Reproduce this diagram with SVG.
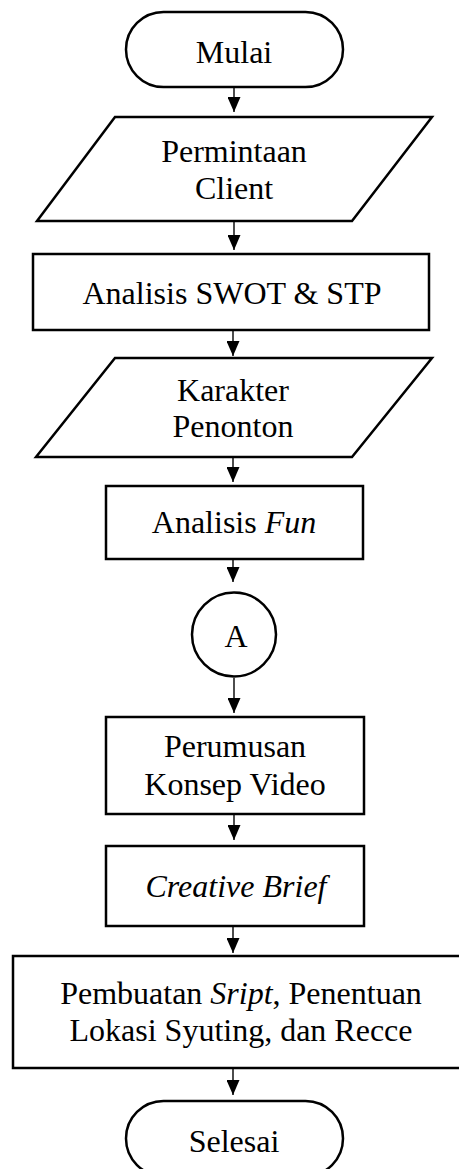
<svg xmlns="http://www.w3.org/2000/svg" width="459" height="1169" viewBox="0 0 459 1169">
<style>
.shape{fill:#fff;stroke:#000;stroke-width:2.5}
.lbl{font-family:"Liberation Serif","Times New Roman",serif;font-size:32px;fill:#000;text-anchor:middle}
.it{font-style:italic}
.conn{stroke:#000;stroke-width:1.4;fill:none}
</style>
<defs>
<marker id="ah" markerUnits="userSpaceOnUse" markerWidth="15" markerHeight="13" viewBox="0 0 15 13" refX="15" refY="6.5" orient="auto">
<path d="M0,0 L15,6.5 L0,13 z" fill="#000"/>
</marker>
</defs>
<rect width="459" height="1169" fill="#fff"/>
<g id="connectors">
<line class="conn" x1="234" y1="87" x2="234" y2="112" marker-end="url(#ah)"/>
<line class="conn" x1="234" y1="216" x2="234" y2="250" marker-end="url(#ah)"/>
<line class="conn" x1="233" y1="323" x2="233" y2="356" marker-end="url(#ah)"/>
<line class="conn" x1="233" y1="448" x2="233" y2="482" marker-end="url(#ah)"/>
<line class="conn" x1="233" y1="549" x2="233" y2="582" marker-end="url(#ah)"/>
<line class="conn" x1="234" y1="678" x2="234" y2="713" marker-end="url(#ah)"/>
<line class="conn" x1="234" y1="806" x2="234" y2="840" marker-end="url(#ah)"/>
<line class="conn" x1="233" y1="918" x2="233" y2="953" marker-end="url(#ah)"/>
<line class="conn" x1="233" y1="1061" x2="233" y2="1095" marker-end="url(#ah)"/>
</g>
<g id="mulai">
<rect class="shape" x="126" y="12" width="217" height="75" rx="37.5"/>
<text class="lbl" x="234" y="63">Mulai</text>
</g>
<g id="permintaan">
<polygon class="shape" points="115,117 432,117 352,221 37,221"/>
<text class="lbl" x="234" y="162">Permintaan</text>
<text class="lbl" x="234" y="199">Client</text>
</g>
<g id="swot">
<rect class="shape" x="33" y="254" width="396" height="76"/>
<text class="lbl" x="232" y="304">Analisis SWOT &amp; STP</text>
</g>
<g id="karakter">
<polygon class="shape" points="115,358 432,358 352,457 36,457"/>
<text class="lbl" x="233" y="401">Karakter</text>
<text class="lbl" x="233" y="437">Penonton</text>
</g>
<g id="fun">
<rect class="shape" x="106" y="486" width="257" height="73"/>
<text class="lbl" x="234" y="533">Analisis <tspan class="it">Fun</tspan></text>
</g>
<g id="connA">
<circle class="shape" cx="234" cy="634.5" r="42"/>
<text class="lbl" x="236" y="647">A</text>
</g>
<g id="perumusan">
<rect class="shape" x="106" y="717" width="258" height="97"/>
<text class="lbl" x="235" y="757">Perumusan</text>
<text class="lbl" x="235" y="795">Konsep Video</text>
</g>
<g id="brief">
<rect class="shape" x="106" y="846" width="258" height="80"/>
<text class="lbl it" x="236" y="897">Creative Brief</text>
</g>
<g id="pembuatan">
<rect class="shape" x="13" y="956" width="460" height="112"/>
<text class="lbl" x="241" y="1004">Pembuatan <tspan class="it">Sript</tspan>, Penentuan</text>
<text class="lbl" x="241" y="1041">Lokasi Syuting, dan Recce</text>
</g>
<g id="selesai">
<rect class="shape" x="126" y="1101" width="217" height="75" rx="37.5"/>
<text class="lbl" x="234" y="1152">Selesai</text>
</g>
</svg>
